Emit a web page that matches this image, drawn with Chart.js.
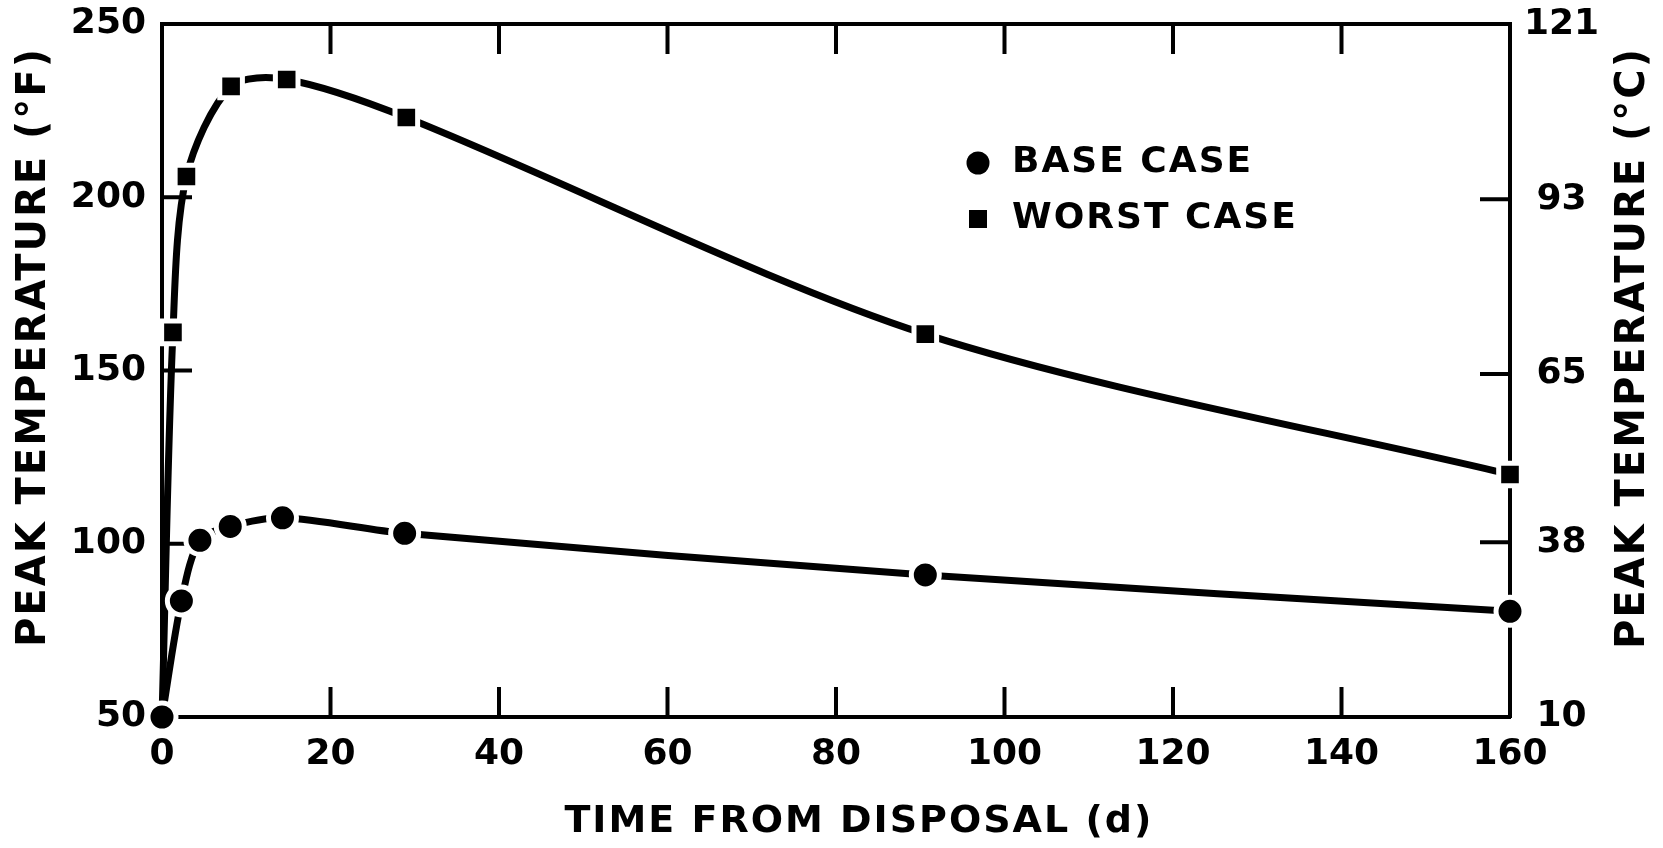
<!DOCTYPE html>
<html>
<head>
<meta charset="utf-8">
<script src="https://cdn.jsdelivr.net/npm/chart.js@4/dist/chart.umd.min.js"></script>
<style>
  html, body { margin: 0; padding: 0; background: #fff; }
  #wrap { width: 1663px; height: 848px; }
</style>
</head>
<body>
<div id="wrap"><canvas id="peakTemp" width="1663" height="848"></canvas></div>
<script>
// valores (dias desde o descarte, temperatura em °F)
const baseDays  = [0, 2.3, 4.5, 8.1, 14.3, 28.8, 90.6, 160];
const baseTemp  = [50, 83.5, 101, 105, 107.5, 103, 91, 80.5];
const worstDays = [0, 1.3, 2.9, 8.2, 14.8, 29, 90.6, 160];
const worstTemp = [50, 161, 206, 232, 234, 223, 160.5, 120];

const celsiusTicks = [10, 38, 65, 93, 121];
const legendLabels = ['BASE CASE', 'WORST CASE'];
const xTitle = 'TIME FROM DISPOSAL (d)';
const yTitleF = 'PEAK TEMPERATURE (°F)';
const yTitleC = 'PEAK TEMPERATURE (°C)';

const FONT = '"DejaVu Sans"';

const toPoints = (xs, ys) => xs.map((x, i) => ({ x: x, y: ys[i] }));

// marcas de escala para dentro do gráfico
const inwardTicks = {
  id: 'inwardTicks',
  beforeDatasetsDraw(chart) {
    const { ctx, chartArea: a, scales } = chart;
    const len = 30;
    ctx.save();
    ctx.strokeStyle = '#000';
    ctx.lineWidth = 4;
    ctx.beginPath();
    scales.x.ticks.forEach(t => {
      if (t.value <= scales.x.min || t.value >= scales.x.max) return;
      const px = scales.x.getPixelForValue(t.value);
      ctx.moveTo(px, a.bottom); ctx.lineTo(px, a.bottom - len);
      ctx.moveTo(px, a.top); ctx.lineTo(px, a.top + len);
    });
    scales.y.ticks.forEach(t => {
      if (t.value <= scales.y.min || t.value >= scales.y.max) return;
      const py = scales.y.getPixelForValue(t.value);
      ctx.moveTo(a.left, py); ctx.lineTo(a.left + len, py);
    });
    scales.yC.ticks.forEach(t => {
      if (t.value <= scales.yC.min || t.value >= 120) return;
      const py = scales.yC.getPixelForValue(t.value);
      ctx.moveTo(a.right, py); ctx.lineTo(a.right - len, py);
    });
    ctx.stroke();
    ctx.restore();
  }
};

// títulos dos eixos e legenda desenhados à mão
const titlesAndLegend = {
  id: 'titlesAndLegend',
  afterDraw(chart) {
    const { ctx, chartArea: a } = chart;
    ctx.save();
    ctx.fillStyle = '#000';
    ctx.textAlign = 'center';
    ctx.textBaseline = 'middle';
    ctx.letterSpacing = '2px';

    ctx.font = 'bold 38px ' + FONT;
    ctx.fillText(xTitle, a.left + 0.517 * a.width, a.bottom + 105);

    ctx.font = 'bold 40px ' + FONT;
    ctx.save();
    ctx.translate(a.left - 127, a.top + 323);
    ctx.rotate(-Math.PI / 2);
    ctx.fillText(yTitleF, 0, 0);
    ctx.restore();

    ctx.save();
    ctx.translate(a.right + 124, a.top + 324);
    ctx.rotate(-Math.PI / 2);
    ctx.fillText(yTitleC, 0, 0);
    ctx.restore();

    // legenda
    const lx = a.left + 816;
    const ly = [a.top + 139, a.top + 195];
    ctx.beginPath();
    ctx.arc(lx, ly[0], 11.5, 0, Math.PI * 2);
    ctx.fill();
    ctx.fillRect(lx - 9, ly[1] - 9, 18, 18);
    ctx.font = 'bold 36px ' + FONT;
    ctx.textAlign = 'left';
    ctx.fillText(legendLabels[0], lx + 34, ly[0]);
    ctx.fillText(legendLabels[1], lx + 34, ly[1]);
    ctx.restore();
  }
};

const tickFont = { family: FONT, size: 36, weight: 'bold' };

// tamanho fixo das caixas dos eixos, sem folga extra dos rótulos
const fixWidth = w => s => { s.width = w; s.paddingTop = 0; s.paddingBottom = 0; };
const fixHeight = h => s => { s.height = h; s.paddingLeft = 0; s.paddingRight = 0; };

new Chart(document.getElementById('peakTemp').getContext('2d'), {
  type: 'line',
  data: {
    datasets: [
      {
        label: legendLabels[0],
        data: toPoints(baseDays, baseTemp),
        borderColor: '#000',
        backgroundColor: '#000',
        borderWidth: 7,
        borderCapStyle: 'round',
        tension: 0.3,
        pointStyle: 'circle',
        pointRadius: 14,
        pointBorderColor: '#fff',
        pointBorderWidth: 5,
        pointBackgroundColor: '#000',
        clip: false
      },
      {
        label: legendLabels[1],
        data: toPoints(worstDays, worstTemp),
        borderColor: '#000',
        backgroundColor: '#000',
        borderWidth: 7,
        borderCapStyle: 'round',
        tension: 0.3,
        pointStyle: 'rect',
        pointRadius: worstDays.map((d, i) => i === 0 ? 0 : 16),
        pointBorderColor: '#fff',
        pointBorderWidth: 5,
        pointBackgroundColor: '#000',
        clip: false
      }
    ]
  },
  options: {
    responsive: false,
    animation: false,
    layout: { padding: 0 },
    plugins: {
      legend: { display: false },
      tooltip: { enabled: false }
    },
    scales: {
      x: {
        type: 'linear',
        position: 'bottom',
        min: 0,
        max: 160,
        ticks: { stepSize: 20, color: '#000', font: tickFont, padding: 16, maxRotation: 0 },
        grid: { display: false, drawTicks: false },
        border: { display: true, color: '#000', width: 4 },
        afterFit: fixHeight(131)
      },
      xTop: {
        type: 'linear',
        position: 'top',
        min: 0,
        max: 160,
        ticks: { display: false },
        grid: { display: false, drawTicks: false },
        border: { display: true, color: '#000', width: 4 },
        afterFit: fixHeight(24)
      },
      y: {
        type: 'linear',
        position: 'left',
        min: 50,
        max: 250,
        ticks: { stepSize: 50, color: '#000', font: tickFont, padding: 16 },
        grid: { display: false, drawTicks: false },
        border: { display: true, color: '#000', width: 4 },
        afterFit: fixWidth(162)
      },
      yC: {
        type: 'linear',
        position: 'right',
        min: 10,
        max: 121.11,
        afterBuildTicks: s => { s.ticks = celsiusTicks.map(v => ({ value: v })); },
        ticks: { color: '#000', font: tickFont, padding: 14, crossAlign: 'center' },
        grid: { display: false, drawTicks: false },
        border: { display: true, color: '#000', width: 4 },
        afterFit: fixWidth(153)
      }
    }
  },
  plugins: [inwardTicks, titlesAndLegend]
});
</script>
</body>
</html>
